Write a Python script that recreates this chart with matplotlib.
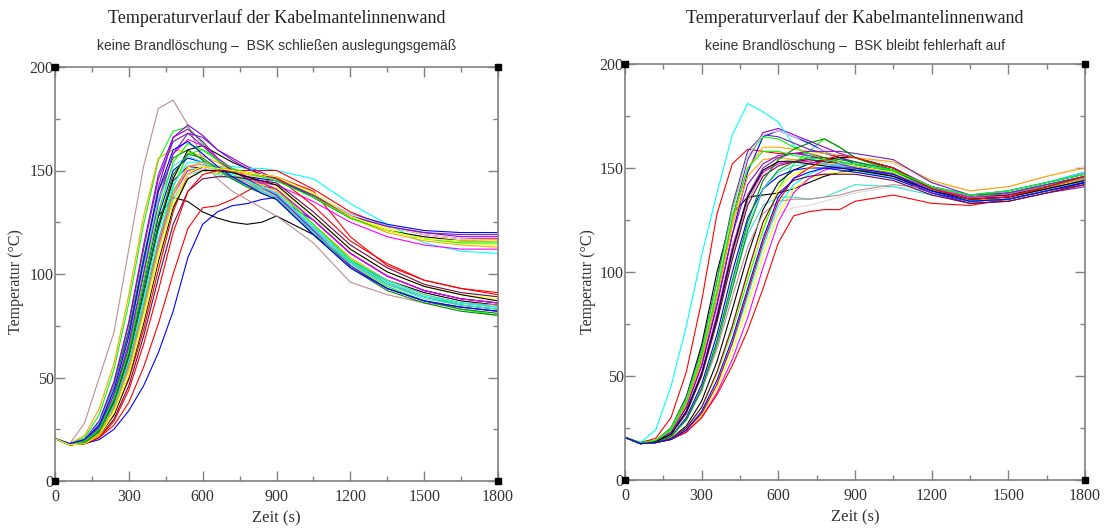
import matplotlib
matplotlib.use("Agg")
import matplotlib.pyplot as plt
from matplotlib.ticker import MultipleLocator

# Zeitraster (s)
zeit = [0, 60, 120, 180, 240, 300, 360, 420, 480, 540, 600, 660, 720, 780,
        840, 900, 1050, 1200, 1350, 1500, 1650, 1800]

# xmgrace Farbtabelle (Farben 1..15)
grace_farben = ['#000000', '#ff0000', '#00ff00', '#0000ff', '#ffff00',
                '#bc8f8f', '#dcdcdc', '#9400d3', '#00ffff', '#ff00ff',
                '#ffa500', '#7221bc', '#670748', '#40e0d0', '#008b00']

# links: BSK schliessen auslegungsgemaess
links_kurven = [
    [20.5, 18, 19, 25, 40, 65, 98, 128, 137, 135, 130, 127, 125, 124, 125, 128, 119, 106, 97, 91, 87, 85],
    [20.5, 17.5, 18, 21, 27, 38, 55, 76, 100, 122, 132, 133, 136, 140, 144, 147, 140, 118, 104, 97, 93, 91],
    [20.5, 18, 21, 32, 54, 86, 124, 155, 169, 171, 163, 155, 149, 145, 141, 138, 122, 105, 94, 87, 83, 80],
    [20.5, 17.5, 18, 20, 25, 34, 46, 62, 82, 108, 124, 130, 133, 134, 136, 137, 126, 110, 99, 92, 88, 86],
    [20.5, 18, 19, 26, 42, 66, 98, 130, 148, 151, 150, 149, 148, 147, 147, 146, 139, 128, 122, 117, 115, 114],
    [20.5, 18, 28, 50, 72, 112, 152, 180, 184, 172, 155, 146, 140, 136, 132, 128, 115, 96, 90, 86, 84, 82],
    [20.5, 17.5, 19, 25, 39, 60, 90, 122, 146, 158, 156, 151, 147, 144, 141, 138, 121, 106, 96, 90, 86, 84],
    [20.5, 17.5, 19, 27, 45, 72, 106, 142, 166, 172, 167, 160, 156, 152, 149, 146, 138, 128, 123, 120, 118, 118],
    [20.5, 18, 19, 25, 38, 58, 86, 116, 140, 150, 152, 152, 152, 151, 151, 150, 146, 134, 124, 115, 111, 110],
    [20.5, 17.5, 18.5, 24, 37, 57, 84, 114, 138, 150, 151, 149, 147, 145, 144, 143, 135, 125, 118, 114, 112, 112],
    [20.5, 18, 22, 35, 57, 90, 128, 156, 160, 159, 157, 154, 150, 146, 143, 140, 124, 108, 97, 90, 86, 84],
    [20.5, 18, 20, 29, 48, 76, 112, 146, 164, 168, 162, 155, 150, 146, 142, 139, 122, 106, 95, 89, 85, 83],
    [20.5, 17.5, 19, 25, 39, 61, 92, 124, 145, 152, 151, 149, 147, 145, 143, 141, 126, 110, 99, 92, 88, 86],
    [20.5, 17.5, 18.5, 23, 35, 54, 82, 112, 136, 148, 150, 148, 146, 143, 141, 139, 123, 107, 97, 90, 86, 84],
    [20.5, 18, 20, 28, 46, 73, 108, 140, 156, 160, 155, 150, 146, 143, 140, 137, 120, 104, 93, 87, 83, 81],
    [20.5, 17.5, 18.5, 24, 38, 60, 90, 122, 146, 160, 162, 158, 154, 151, 148, 146, 137, 127, 121, 118, 116, 116],
    [20.5, 17.5, 18, 22, 32, 49, 73, 102, 130, 148, 152, 151, 150, 150, 150, 150, 141, 130, 123, 119, 117, 117],
    [20.5, 17.5, 18.5, 23, 35, 55, 84, 116, 142, 158, 160, 156, 151, 147, 144, 141, 124, 107, 96, 89, 85, 83],
    [20.5, 17.5, 19, 25, 40, 63, 95, 128, 150, 156, 154, 151, 149, 147, 146, 145, 138, 129, 124, 121, 120, 120],
    [20.5, 17.5, 18, 22, 33, 51, 77, 106, 132, 146, 150, 149, 147, 145, 143, 142, 128, 112, 101, 94, 90, 88],
    [20.5, 17.5, 18.5, 23, 36, 56, 85, 116, 140, 152, 153, 150, 147, 144, 141, 138, 122, 106, 95, 89, 86, 85],
    [20.5, 17.5, 18, 22, 33, 51, 78, 108, 134, 148, 151, 150, 149, 148, 147, 146, 139, 129, 123, 119, 117, 116],
    [20.5, 18, 20, 29, 48, 77, 114, 148, 166, 170, 164, 156, 150, 146, 142, 138, 121, 104, 93, 87, 84, 82],
    [20.5, 17.5, 18.5, 24, 37, 58, 88, 120, 143, 154, 154, 151, 148, 145, 142, 139, 122, 106, 96, 89, 86, 84],
    [20.5, 17.5, 19, 26, 42, 67, 101, 136, 158, 165, 162, 156, 151, 147, 144, 141, 126, 110, 99, 92, 88, 86],
    [20.5, 17.5, 18.5, 23, 35, 54, 82, 112, 138, 152, 154, 152, 150, 148, 147, 146, 138, 127, 120, 116, 114, 113],
    [20.5, 17.5, 19, 26, 42, 66, 100, 134, 158, 168, 166, 160, 155, 151, 148, 146, 138, 128, 123, 120, 119, 119],
    [20.5, 17.5, 18, 21, 30, 46, 70, 98, 124, 140, 146, 147, 147, 146, 145, 144, 130, 114, 103, 95, 91, 89],
    [20.5, 18, 20, 28, 45, 70, 104, 136, 152, 157, 154, 150, 146, 143, 140, 137, 120, 105, 95, 88, 85, 83],
    [20.5, 17.5, 18.5, 24, 38, 60, 91, 124, 148, 158, 156, 151, 146, 142, 139, 136, 119, 103, 92, 86, 82, 80],
    [20.5, 17.5, 18, 22, 32, 50, 76, 106, 132, 146, 150, 150, 149, 147, 145, 143, 128, 112, 101, 94, 90, 87],
    [20.5, 17.5, 18, 21, 29, 44, 66, 92, 120, 140, 148, 150, 150, 149, 148, 147, 133, 116, 105, 97, 93, 90],
    [20.5, 17.5, 19, 25, 40, 63, 96, 130, 154, 163, 160, 155, 151, 149, 147, 145, 137, 127, 121, 117, 115, 115],
    [20.5, 18, 20, 27, 44, 70, 106, 140, 160, 164, 158, 152, 147, 143, 139, 136, 119, 103, 93, 87, 84, 82],
    [20.5, 17.5, 18, 22, 33, 51, 78, 108, 134, 149, 152, 151, 150, 149, 148, 147, 139, 128, 121, 117, 116, 116],
]

# rechts: BSK bleibt fehlerhaft auf
rechts_kurven = [
    [20.5, 18, 19, 25, 40, 65, 100, 128, 136, 137, 138, 140, 143, 146, 148, 149, 147, 141, 136, 138, 141, 144],
    [20.5, 18, 20, 30, 52, 86, 128, 152, 159, 158, 157, 157, 157, 155, 153, 151, 148, 140, 136, 137, 140, 143],
    [20.5, 17.5, 18, 20, 25, 35, 51, 72, 96, 120, 140, 152, 158, 164, 160, 155, 148, 138, 135, 136, 140, 144],
    [20.5, 17.5, 18.5, 23, 35, 55, 84, 118, 148, 165, 168, 165, 162, 158, 155, 152, 147, 139, 136, 138, 142, 146],
    [20.5, 17.5, 18, 19.5, 23, 31, 44, 62, 84, 108, 128, 140, 145, 147, 148, 148, 146, 138, 133, 134, 138, 142],
    [20.5, 17.5, 18.5, 22, 33, 51, 78, 108, 134, 148, 153, 154, 154, 153, 152, 151, 147, 140, 136, 137, 141, 145],
    [20.5, 17.5, 18, 20, 25, 35, 52, 75, 100, 118, 128, 131, 132, 134, 136, 138, 141, 139, 136, 137, 141, 144],
    [20.5, 17.5, 19, 24, 37, 59, 90, 126, 154, 167, 169, 166, 163, 160, 157, 155, 150, 141, 137, 139, 143, 148],
    [20.5, 18, 24, 45, 74, 108, 138, 166, 181, 177, 172, 161, 155, 152, 150, 149, 145, 138, 134, 135, 139, 142],
    [20.5, 17.5, 18, 19.5, 23, 30, 42, 58, 78, 102, 124, 138, 145, 149, 151, 151, 148, 140, 136, 137, 141, 146],
    [20.5, 17.5, 18.5, 23, 36, 57, 88, 122, 146, 154, 155, 154, 153, 152, 151, 150, 146, 139, 135, 135, 139, 143],
    [20.5, 17.5, 19, 25, 40, 63, 96, 132, 158, 166, 165, 162, 159, 157, 155, 153, 149, 141, 137, 139, 143, 147],
    [20.5, 17.5, 18, 22, 32, 50, 76, 106, 132, 146, 151, 153, 154, 153, 152, 151, 148, 141, 136, 137, 141, 145],
    [20.5, 17.5, 18, 21, 29, 44, 66, 94, 118, 132, 136, 136, 135, 136, 139, 142, 141, 137, 134, 135, 139, 143],
    [20.5, 17.5, 18, 21, 29, 43, 65, 92, 120, 140, 149, 153, 155, 155, 154, 153, 148, 139, 134, 135, 139, 143],
    [20.5, 17.5, 18, 20, 26, 38, 57, 82, 108, 130, 143, 149, 152, 154, 155, 155, 150, 140, 135, 136, 140, 145],
    [20.5, 17.5, 18, 19.5, 23, 30, 41, 55, 72, 92, 114, 127, 129, 130, 130, 134, 137, 133, 132, 135, 139, 142],
    [20.5, 18, 19, 25, 39, 62, 95, 130, 156, 165, 164, 160, 157, 154, 152, 151, 148, 140, 136, 138, 142, 146],
    [20.5, 17.5, 18, 21, 30, 46, 70, 100, 126, 140, 146, 149, 150, 150, 149, 148, 145, 138, 134, 135, 139, 143],
    [20.5, 17.5, 18, 20, 25, 35, 51, 73, 98, 122, 140, 147, 150, 152, 152, 151, 148, 139, 135, 136, 140, 145],
    [20.5, 17.5, 18, 21, 29, 43, 63, 88, 112, 128, 134, 135, 135, 136, 137, 139, 142, 140, 137, 138, 141, 145],
    [20.5, 17.5, 19, 24, 38, 60, 92, 128, 156, 166, 168, 165, 161, 158, 156, 155, 152, 143, 139, 141, 146, 151],
    [20.5, 17.5, 18.5, 23, 35, 55, 85, 118, 142, 152, 156, 157, 156, 154, 152, 150, 146, 138, 133, 134, 138, 141],
    [20.5, 17.5, 18, 19.5, 24, 32, 46, 65, 88, 112, 132, 142, 147, 150, 152, 152, 149, 141, 137, 139, 143, 148],
    [20.5, 17.5, 18.5, 22, 33, 52, 80, 112, 136, 148, 152, 153, 153, 152, 151, 150, 147, 140, 136, 136, 140, 144],
    [20.5, 17.5, 19, 24, 37, 58, 89, 124, 150, 160, 160, 159, 158, 157, 156, 155, 153, 144, 139, 141, 146, 150],
    [20.5, 17.5, 18.5, 22, 33, 51, 78, 110, 137, 150, 155, 157, 158, 158, 158, 157, 154, 143, 137, 138, 142, 146],
    [20.5, 17.5, 18, 20, 25, 35, 52, 74, 100, 124, 138, 144, 146, 147, 147, 147, 144, 137, 133, 134, 138, 142],
    [20.5, 17.5, 18, 21, 29, 44, 66, 94, 122, 140, 148, 151, 152, 152, 151, 150, 147, 139, 134, 135, 139, 144],
    [20.5, 17.5, 18, 21, 29, 44, 67, 96, 124, 144, 154, 159, 162, 164, 160, 155, 149, 140, 135, 136, 141, 146],
    [20.5, 17.5, 18.5, 22, 33, 51, 78, 110, 136, 149, 153, 153, 152, 151, 150, 149, 146, 139, 135, 136, 140, 144],
    [20.5, 17.5, 18, 19.5, 24, 32, 46, 66, 90, 114, 134, 145, 150, 154, 156, 155, 150, 140, 135, 136, 141, 146],
    [20.5, 17.5, 19, 24, 38, 60, 91, 126, 150, 158, 158, 156, 155, 154, 153, 152, 149, 141, 137, 139, 143, 147],
    [20.5, 17.5, 18, 19.5, 24, 33, 48, 68, 92, 116, 136, 145, 148, 150, 150, 150, 147, 139, 134, 135, 139, 143],
]

titel = "Temperaturverlauf der Kabelmantelinnenwand"
untertitel_links = "keine Brandlöschung –  BSK schließen auslegungsgemäß"
untertitel_rechts = "keine Brandlöschung –  BSK bleibt fehlerhaft auf"

serif = ['Liberation Serif', 'DejaVu Serif']
narrow = ['Liberation Sans Narrow', 'Liberation Sans', 'DejaVu Sans']

fig = plt.figure(figsize=(11.06, 5.30), dpi=100)
W, H = 1106.0, 530.0


def panel(px0, px1, py_top, py_bot, kurven, untertitel, ylab_x):
    ax = fig.add_axes([px0 / W, 1 - py_bot / H, (px1 - px0) / W, (py_bot - py_top) / H])
    for i, werte in enumerate(kurven):
        ax.plot(zeit, werte, color=grace_farben[i % len(grace_farben)], lw=0.8)
    ax.set_xlim(0, 1800)
    ax.set_ylim(0, 200)
    ax.xaxis.set_major_locator(MultipleLocator(300))
    ax.xaxis.set_minor_locator(MultipleLocator(150))
    ax.yaxis.set_major_locator(MultipleLocator(50))
    ax.yaxis.set_minor_locator(MultipleLocator(25))
    ax.tick_params(which='both', direction='in', top=True, right=True, color='#808080', width=1.0)
    ax.tick_params(which='major', length=7)
    ax.tick_params(which='minor', length=3.5)
    ax.tick_params(axis='x', pad=6)
    ax.tick_params(axis='y', pad=1)
    for s in ax.spines.values():
        s.set_color('#808080')
        s.set_linewidth(1.2)
    for lab in ax.get_xticklabels() + ax.get_yticklabels():
        lab.set_family(serif)
        lab.set_fontsize(11.5)
        lab.set_color('#333333')
    # schwarze Quadrate an den Ecken
    ax.plot([0, 1, 0, 1], [0, 0, 1, 1], 's', color='black', ms=4.5,
            transform=ax.transAxes, clip_on=False, zorder=5)
    ax.set_xlabel("Zeit (s)", family=serif, fontsize=12, color='#333333', labelpad=4)
    xc = (px0 + px1) / 2 / W
    fig.text(xc, 1 - 18 / H, titel, ha='center', va='center', family=serif,
             fontsize=13, color='#222222')
    fig.text(xc, 1 - 46 / H, untertitel, ha='center', va='center', family=narrow,
             fontsize=10, color='#333333')
    fig.text(ylab_x / W, 1 - 282 / H, "Temperatur (°C)", rotation=90, ha='center',
             va='center', family=serif, fontsize=11.5, color='#333333')
    return ax


panel(55, 498, 67, 481, links_kurven, untertitel_links, 16)
panel(625, 1085, 64, 480, rechts_kurven, untertitel_rechts, 588)

fig.savefig("out.png", dpi=100)
